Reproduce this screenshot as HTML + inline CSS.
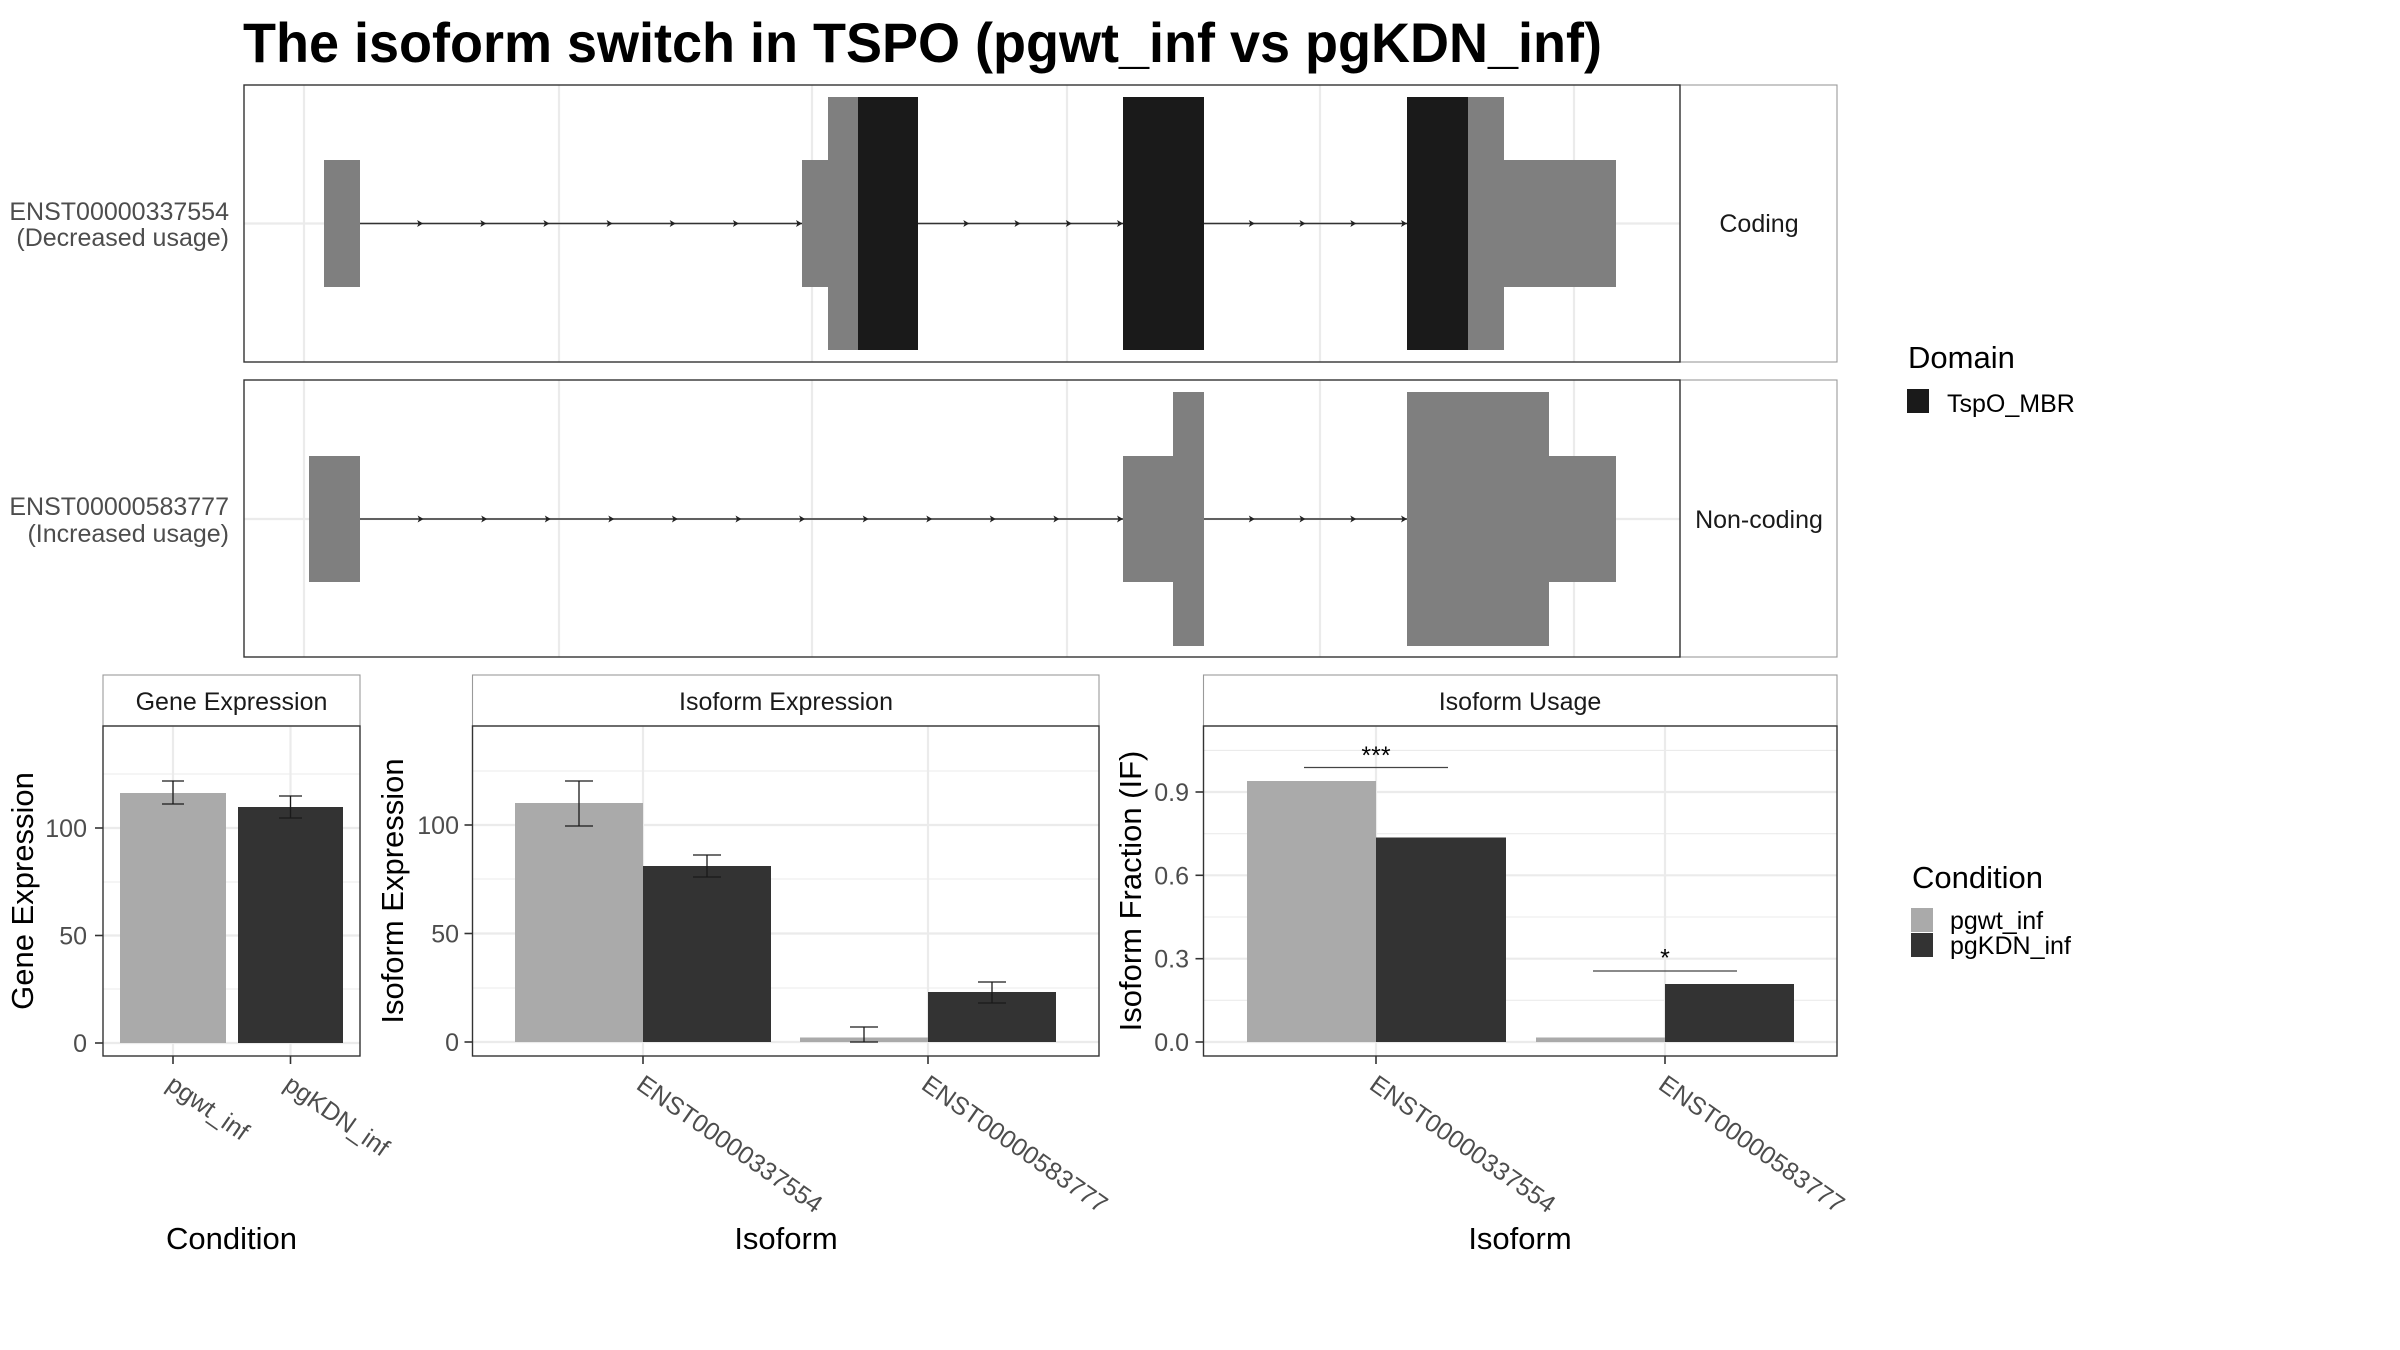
<!DOCTYPE html>
<html><head><meta charset="utf-8"><style>
html,body{margin:0;padding:0;background:#fff;}
svg{display:block;}
text{font-family:"Liberation Sans",Arial,sans-serif;}
</style></head><body>
<svg width="2400" height="1350" viewBox="0 0 2400 1350" xmlns="http://www.w3.org/2000/svg">
<rect x="0" y="0" width="2400" height="1350" fill="#fff"/>
<!-- Title -->
<text x="243" y="62" font-size="56" font-weight="bold" fill="#000" textLength="1359" lengthAdjust="spacingAndGlyphs">The isoform switch in TSPO (pgwt_inf vs pgKDN_inf)</text>

<!-- ===== Transcript panels ===== -->
<g stroke="#ebebeb" stroke-width="2.2">
<line x1="304" y1="85" x2="304" y2="362"/><line x1="559" y1="85" x2="559" y2="362"/><line x1="812" y1="85" x2="812" y2="362"/><line x1="1067" y1="85" x2="1067" y2="362"/><line x1="1320" y1="85" x2="1320" y2="362"/><line x1="1574" y1="85" x2="1574" y2="362"/>
<line x1="304" y1="380" x2="304" y2="657"/><line x1="559" y1="380" x2="559" y2="657"/><line x1="812" y1="380" x2="812" y2="657"/><line x1="1067" y1="380" x2="1067" y2="657"/><line x1="1320" y1="380" x2="1320" y2="657"/><line x1="1574" y1="380" x2="1574" y2="657"/>
<line x1="244" y1="223.5" x2="1680" y2="223.5"/><line x1="244" y1="519" x2="1680" y2="519"/>
</g>
<!-- introns -->
<g stroke="#333" stroke-width="1.4">
<line x1="360" y1="223.5" x2="802" y2="223.5"/><line x1="918" y1="223.5" x2="1123" y2="223.5"/><line x1="1204" y1="223.5" x2="1407" y2="223.5"/>
<line x1="360" y1="519" x2="1123" y2="519"/><line x1="1204" y1="519" x2="1407" y2="519"/>
</g>
<g fill="#222">
<path d="M417.1,220 L423.1,223.5 L417.1,227 L418.6,223.5Z"/>
<path d="M480.3,220 L486.3,223.5 L480.3,227 L481.8,223.5Z"/>
<path d="M543.4,220 L549.4,223.5 L543.4,227 L544.9,223.5Z"/>
<path d="M606.6,220 L612.6,223.5 L606.6,227 L608.1,223.5Z"/>
<path d="M669.7,220 L675.7,223.5 L669.7,227 L671.2,223.5Z"/>
<path d="M732.9,220 L738.9,223.5 L732.9,227 L734.4,223.5Z"/>
<path d="M796,220 L802,223.5 L796,227 L797.5,223.5Z"/>
<path d="M963.3,220 L969.3,223.5 L963.3,227 L964.8,223.5Z"/>
<path d="M1014.5,220 L1020.5,223.5 L1014.5,227 L1016,223.5Z"/>
<path d="M1065.8,220 L1071.8,223.5 L1065.8,227 L1067.3,223.5Z"/>
<path d="M1117,220 L1123,223.5 L1117,227 L1118.5,223.5Z"/>
<path d="M1248.8,220 L1254.8,223.5 L1248.8,227 L1250.3,223.5Z"/>
<path d="M1299.5,220 L1305.5,223.5 L1299.5,227 L1301,223.5Z"/>
<path d="M1350.3,220 L1356.3,223.5 L1350.3,227 L1351.8,223.5Z"/>
<path d="M1401,220 L1407,223.5 L1401,227 L1402.5,223.5Z"/>
<path d="M417.6,515.5 L423.6,519 L417.6,522.5 L419.1,519Z"/>
<path d="M481.2,515.5 L487.2,519 L481.2,522.5 L482.7,519Z"/>
<path d="M544.8,515.5 L550.8,519 L544.8,522.5 L546.3,519Z"/>
<path d="M608.3,515.5 L614.3,519 L608.3,522.5 L609.8,519Z"/>
<path d="M671.9,515.5 L677.9,519 L671.9,522.5 L673.4,519Z"/>
<path d="M735.5,515.5 L741.5,519 L735.5,522.5 L737,519Z"/>
<path d="M799.1,515.5 L805.1,519 L799.1,522.5 L800.6,519Z"/>
<path d="M862.7,515.5 L868.7,519 L862.7,522.5 L864.2,519Z"/>
<path d="M926.3,515.5 L932.3,519 L926.3,522.5 L927.8,519Z"/>
<path d="M989.8,515.5 L995.8,519 L989.8,522.5 L991.3,519Z"/>
<path d="M1053.4,515.5 L1059.4,519 L1053.4,522.5 L1054.9,519Z"/>
<path d="M1117,515.5 L1123,519 L1117,522.5 L1118.5,519Z"/>
<path d="M1248.8,515.5 L1254.8,519 L1248.8,522.5 L1250.3,519Z"/>
<path d="M1299.5,515.5 L1305.5,519 L1299.5,522.5 L1301,519Z"/>
<path d="M1350.3,515.5 L1356.3,519 L1350.3,522.5 L1351.8,519Z"/>
<path d="M1401,515.5 L1407,519 L1401,522.5 L1402.5,519Z"/>
</g>
<!-- exons coding -->
<g fill="#7f7f7f">
<rect x="324" y="160" width="36" height="127"/>
<rect x="802" y="160" width="26" height="127"/>
<rect x="828" y="97" width="30" height="253"/>
<rect x="1468" y="97" width="36" height="253"/>
<rect x="1504" y="160" width="112" height="127"/>
</g>
<g fill="#1a1a1a">
<rect x="858" y="97" width="60" height="253"/>
<rect x="1123" y="97" width="81" height="253"/>
<rect x="1407" y="97" width="61" height="253"/>
</g>
<!-- exons non-coding -->
<g fill="#7f7f7f">
<rect x="309" y="456" width="51" height="126"/>
<rect x="1123" y="456" width="50" height="126"/>
<rect x="1173" y="392" width="31" height="254"/>
<rect x="1407" y="392" width="142" height="254"/>
<rect x="1549" y="456" width="67" height="126"/>
</g>
<!-- borders -->
<g fill="none">
<rect x="1680" y="85" width="157" height="277" stroke="#9a9a9a" stroke-width="1.1"/>
<rect x="1680" y="380" width="157" height="277" stroke="#9a9a9a" stroke-width="1.1"/>
<rect x="244" y="85" width="1436" height="277" stroke="#333" stroke-width="1.4"/>
<rect x="244" y="380" width="1436" height="277" stroke="#333" stroke-width="1.4"/>
</g>
<g font-size="25" fill="#4d4d4d" text-anchor="end">
<text x="229" y="220">ENST00000337554</text>
<text x="229" y="246">(Decreased usage)</text>
<text x="229" y="515">ENST00000583777</text>
<text x="229" y="542">(Increased usage)</text>
</g>
<g font-size="25" fill="#1a1a1a" text-anchor="middle">
<text x="1759" y="232">Coding</text>
<text x="1759" y="528">Non-coding</text>
</g>
<!-- Domain legend -->
<text x="1908" y="368" font-size="31" fill="#000">Domain</text>
<rect x="1907" y="389" width="22" height="24" fill="#1a1a1a"/>
<text x="1947" y="412" font-size="25" fill="#000">TspO_MBR</text>

<!-- ===== Gene Expression ===== -->
<rect x="103" y="675" width="257" height="51" fill="#fff" stroke="#9a9a9a" stroke-width="1.1"/>
<text x="231.5" y="710" font-size="25" fill="#1a1a1a" text-anchor="middle">Gene Expression</text>
<g stroke="#ebebeb">
<g stroke-width="1.1"><line x1="103" y1="989" x2="360" y2="989"/><line x1="103" y1="882" x2="360" y2="882"/><line x1="103" y1="774" x2="360" y2="774"/></g>
<g stroke-width="2.2"><line x1="103" y1="1043" x2="360" y2="1043"/><line x1="103" y1="935.5" x2="360" y2="935.5"/><line x1="103" y1="828" x2="360" y2="828"/><line x1="173" y1="726" x2="173" y2="1056"/><line x1="290.5" y1="726" x2="290.5" y2="1056"/></g>
</g>
<rect x="120" y="793" width="106" height="250" fill="#aaaaaa"/>
<rect x="238" y="807" width="105" height="236" fill="#333333"/>
<g stroke="#1a1a1a" stroke-width="1.3">
<line x1="173" y1="781" x2="173" y2="804"/><line x1="162" y1="781" x2="184" y2="781"/><line x1="162" y1="804" x2="184" y2="804"/>
<line x1="290.5" y1="796" x2="290.5" y2="818"/><line x1="279" y1="796" x2="302" y2="796"/><line x1="279" y1="818" x2="302" y2="818"/>
</g>
<rect x="103" y="726" width="257" height="330" fill="none" stroke="#333" stroke-width="1.4"/>
<g stroke="#333" stroke-width="1.6">
<line x1="95" y1="1043" x2="103" y2="1043"/><line x1="95" y1="935.5" x2="103" y2="935.5"/><line x1="95" y1="828" x2="103" y2="828"/>
<line x1="173" y1="1056" x2="173" y2="1064"/><line x1="290.5" y1="1056" x2="290.5" y2="1064"/>
</g>
<g font-size="25" fill="#4d4d4d" text-anchor="end">
<text x="87" y="1052">0</text><text x="87" y="944.5">50</text><text x="87" y="837">100</text>
</g>
<g font-size="25" fill="#4d4d4d">
<text transform="translate(165,1088) rotate(35)">pgwt_inf</text>
<text transform="translate(282.5,1088) rotate(35)">pgKDN_inf</text>
</g>
<text transform="translate(33,891) rotate(-90)" font-size="31" fill="#000" text-anchor="middle">Gene Expression</text>
<text x="231.5" y="1249" font-size="31" fill="#000" text-anchor="middle">Condition</text>

<!-- ===== Isoform Expression ===== -->
<rect x="472.5" y="675" width="626.5" height="51" fill="#fff" stroke="#9a9a9a" stroke-width="1.1"/>
<text x="786" y="710" font-size="25" fill="#1a1a1a" text-anchor="middle">Isoform Expression</text>
<g stroke="#ebebeb">
<g stroke-width="1.1"><line x1="472.5" y1="988" x2="1099" y2="988"/><line x1="472.5" y1="879" x2="1099" y2="879"/><line x1="472.5" y1="771" x2="1099" y2="771"/></g>
<g stroke-width="2.2"><line x1="472.5" y1="1042" x2="1099" y2="1042"/><line x1="472.5" y1="933.5" x2="1099" y2="933.5"/><line x1="472.5" y1="825" x2="1099" y2="825"/><line x1="643" y1="726" x2="643" y2="1056"/><line x1="928" y1="726" x2="928" y2="1056"/></g>
</g>
<rect x="515" y="803" width="128" height="239" fill="#aaaaaa"/>
<rect x="643" y="866" width="128" height="176" fill="#333333"/>
<rect x="800" y="1037.5" width="128" height="4.5" fill="#aaaaaa"/>
<rect x="928" y="992" width="128" height="50" fill="#333333"/>
<g stroke="#1a1a1a" stroke-width="1.3">
<line x1="579" y1="781" x2="579" y2="826"/><line x1="565" y1="781" x2="593" y2="781"/><line x1="565" y1="826" x2="593" y2="826"/>
<line x1="707" y1="855" x2="707" y2="877"/><line x1="693" y1="855" x2="721" y2="855"/><line x1="693" y1="877" x2="721" y2="877"/>
<line x1="864" y1="1027" x2="864" y2="1042"/><line x1="850" y1="1027" x2="878" y2="1027"/><line x1="850" y1="1042" x2="878" y2="1042"/>
<line x1="992" y1="982" x2="992" y2="1003"/><line x1="978" y1="982" x2="1006" y2="982"/><line x1="978" y1="1003" x2="1006" y2="1003"/>
</g>
<rect x="472.5" y="726" width="626.5" height="330" fill="none" stroke="#333" stroke-width="1.4"/>
<g stroke="#333" stroke-width="1.6">
<line x1="464.5" y1="1042" x2="472.5" y2="1042"/><line x1="464.5" y1="933.5" x2="472.5" y2="933.5"/><line x1="464.5" y1="825" x2="472.5" y2="825"/>
<line x1="643" y1="1056" x2="643" y2="1064"/><line x1="928" y1="1056" x2="928" y2="1064"/>
</g>
<g font-size="25" fill="#4d4d4d" text-anchor="end">
<text x="459" y="1051">0</text><text x="459" y="942.5">50</text><text x="459" y="834">100</text>
</g>
<g font-size="25" fill="#4d4d4d">
<text transform="translate(635,1088) rotate(35)">ENST00000337554</text>
<text transform="translate(920,1088) rotate(35)">ENST00000583777</text>
</g>
<text transform="translate(403,891) rotate(-90)" font-size="31" fill="#000" text-anchor="middle">Isoform Expression</text>
<text x="786" y="1249" font-size="31" fill="#000" text-anchor="middle">Isoform</text>

<!-- ===== Isoform Usage ===== -->
<rect x="1203.5" y="675" width="633.5" height="51" fill="#fff" stroke="#9a9a9a" stroke-width="1.1"/>
<text x="1520" y="710" font-size="25" fill="#1a1a1a" text-anchor="middle">Isoform Usage</text>
<g stroke="#ebebeb">
<g stroke-width="1.1"><line x1="1203.5" y1="1000.3" x2="1837" y2="1000.3"/><line x1="1203.5" y1="917" x2="1837" y2="917"/><line x1="1203.5" y1="833.7" x2="1837" y2="833.7"/><line x1="1203.5" y1="750.4" x2="1837" y2="750.4"/></g>
<g stroke-width="2.2"><line x1="1203.5" y1="1042" x2="1837" y2="1042"/><line x1="1203.5" y1="958.7" x2="1837" y2="958.7"/><line x1="1203.5" y1="875.3" x2="1837" y2="875.3"/><line x1="1203.5" y1="792" x2="1837" y2="792"/><line x1="1376" y1="726" x2="1376" y2="1056"/><line x1="1665" y1="726" x2="1665" y2="1056"/></g>
</g>
<rect x="1247" y="781" width="129" height="261" fill="#aaaaaa"/>
<rect x="1376" y="837.5" width="130" height="204.5" fill="#333333"/>
<rect x="1536" y="1037.5" width="129" height="4.5" fill="#aaaaaa"/>
<rect x="1665" y="984" width="129" height="58" fill="#333333"/>
<g stroke="#444" stroke-width="1.3">
<line x1="1304" y1="767.5" x2="1448" y2="767.5"/>
<line x1="1593" y1="971" x2="1737" y2="971"/>
</g>
<g font-size="25" fill="#000" text-anchor="middle">
<text x="1376" y="764">***</text>
<text x="1665" y="966.5">*</text>
</g>
<rect x="1203.5" y="726" width="633.5" height="330" fill="none" stroke="#333" stroke-width="1.4"/>
<g stroke="#333" stroke-width="1.6">
<line x1="1195.5" y1="1042" x2="1203.5" y2="1042"/><line x1="1195.5" y1="958.7" x2="1203.5" y2="958.7"/><line x1="1195.5" y1="875.3" x2="1203.5" y2="875.3"/><line x1="1195.5" y1="792" x2="1203.5" y2="792"/>
<line x1="1376" y1="1056" x2="1376" y2="1064"/><line x1="1665" y1="1056" x2="1665" y2="1064"/>
</g>
<g font-size="25" fill="#4d4d4d" text-anchor="end">
<text x="1189" y="1051">0.0</text><text x="1189" y="967.7">0.3</text><text x="1189" y="884.3">0.6</text><text x="1189" y="801">0.9</text>
</g>
<g font-size="25" fill="#4d4d4d">
<text transform="translate(1368,1088) rotate(35)">ENST00000337554</text>
<text transform="translate(1657,1088) rotate(35)">ENST00000583777</text>
</g>
<text transform="translate(1141,891) rotate(-90)" font-size="31" fill="#000" text-anchor="middle">Isoform Fraction (IF)</text>
<text x="1520" y="1249" font-size="31" fill="#000" text-anchor="middle">Isoform</text>

<!-- Condition legend -->
<text x="1912" y="888" font-size="31" fill="#000">Condition</text>
<rect x="1911" y="908" width="22" height="24" fill="#aaaaaa"/>
<rect x="1911" y="933" width="22" height="24" fill="#333333"/>
<g font-size="25" fill="#000">
<text x="1950" y="929">pgwt_inf</text>
<text x="1950" y="954">pgKDN_inf</text>
</g>
</svg>
</body></html>
